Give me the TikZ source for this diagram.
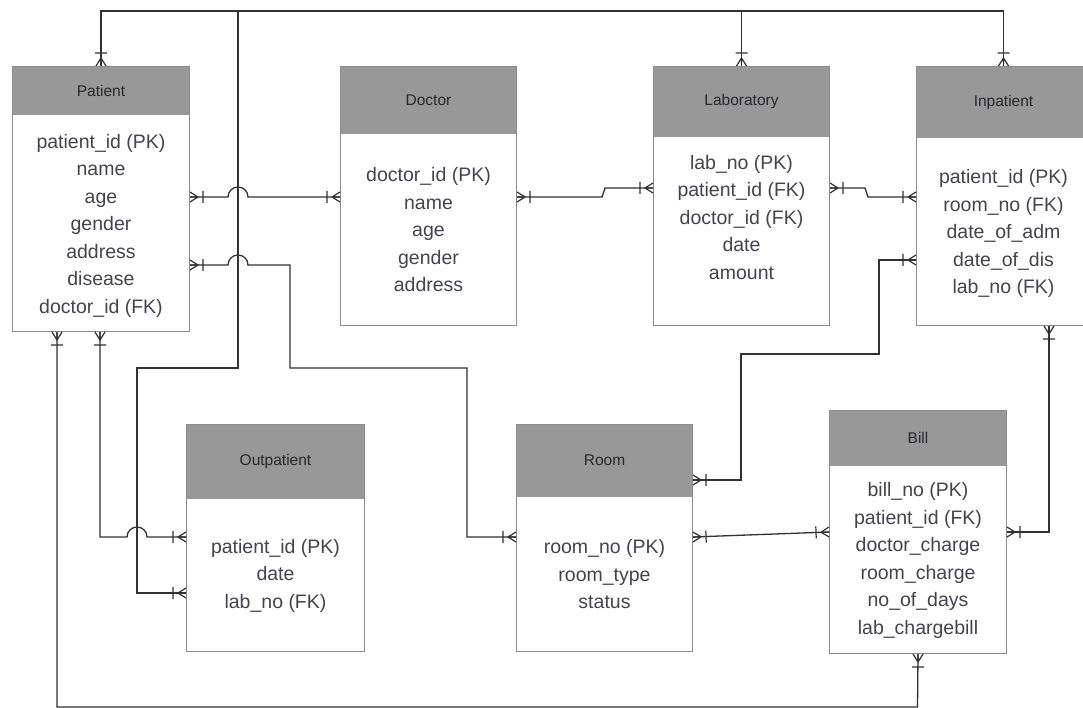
\documentclass[tikz,border=0pt]{standalone}
\usepackage{fontspec}
\setmainfont{Liberation Sans}
\usetikzlibrary{calc}
\definecolor{hdrcol}{RGB}{152,152,152}
\definecolor{boxcol}{RGB}{140,140,140}
\definecolor{txtcol}{RGB}{68,68,78}
\definecolor{ttlcol}{RGB}{40,40,45}
\definecolor{lncol}{RGB}{50,50,50}
\begin{document}
\begin{tikzpicture}[x=1pt,y=1pt,
  entity/.style={draw=boxcol,line width=1pt,inner sep=0pt,anchor=north west,fill=white,
    path picture={\fill[hdrcol] (path picture bounding box.north west) rectangle ([yshift=-#1]path picture bounding box.north east);}},
  ttl/.style={font=\fontsize{15.5}{18}\selectfont,text=ttlcol,inner sep=0pt},
  attr/.style={font=\fontsize{19.5}{27.5}\selectfont,text=txtcol,align=center,inner sep=0pt},
  conn/.style={draw=lncol,line width=1.3pt},
  crow/.pic={\draw[conn,line width=1.2pt] (0,-5)--(8,0)--(0,5) (0,0)--(8,0) (13,-6)--(13,6);}
]
\clip (0,0) rectangle (1083,-708);
\fill[white] (0,0) rectangle (1083,-708);

% entities
\node[entity=49, minimum width=177, minimum height=265] (pat) at (12,-66) {};
\node[entity=68, minimum width=176, minimum height=259] (doc) at (340,-66) {};
\node[entity=71, minimum width=176, minimum height=259] (lab) at (653,-66) {};
\node[entity=72, minimum width=174, minimum height=259] (inp) at (916,-66) {};
\node[entity=74, minimum width=178, minimum height=227] (outp) at (186,-424) {};
\node[entity=72, minimum width=176, minimum height=227] (room) at (516,-424) {};
\node[entity=55, minimum width=177, minimum height=243] (bill) at (829,-410) {};

% titles
\node[ttl] (patT) at ([yshift=-24.5]pat.north) {Patient};
\node[ttl] (docT) at ([yshift=-34]doc.north) {Doctor};
\node[ttl] (labT) at ([yshift=-35.5]lab.north) {Laboratory};
\node[ttl] (inpT) at ([yshift=-36]inp.north) {Inpatient};
\node[ttl] (outpT) at ([yshift=-37]outp.north) {Outpatient};
\node[ttl] (roomT) at ([yshift=-36]room.north) {Room};
\node[ttl] (billT) at ([yshift=-27.5]bill.north) {Bill};

% attributes
\node[attr] (patA) at ([yshift=-159.5]pat.north) {patient\_id (PK)\\name\\age\\gender\\address\\disease\\doctor\_id (FK)};
\node[attr] (docA) at ([yshift=-164]doc.north) {doctor\_id (PK)\\name\\age\\gender\\address};
\node[attr] (labA) at ([yshift=-151.5]lab.north) {lab\_no (PK)\\patient\_id (FK)\\doctor\_id (FK)\\date\\amount};
\node[attr] (inpA) at ([yshift=-167.5]inp.north) {patient\_id (PK)\\room\_no (FK)\\date\_of\_adm\\date\_of\_dis\\lab\_no (FK)};
\node[attr] (outpA) at ([yshift=-151.5]outp.north) {patient\_id (PK)\\date\\lab\_no (FK)};
\node[attr] (roomA) at ([yshift=-150.5]room.north) {room\_no (PK)\\room\_type\\status};
\node[attr] (billA) at ([yshift=-150.5]bill.north) {bill\_no (PK)\\patient\_id (FK)\\doctor\_charge\\room\_charge\\no\_of\_days\\lab\_chargebill};

% top network
\coordinate (jtop) at (238,-11);
\draw[conn] (pat.north) -- ++(0,55) -| (inp.north);
\draw[conn] (lab.north) -- ++(0,55);
\draw[conn] (jtop) -- (238,-368) -- (137,-368) -- (137,-593) -- ([yshift=-169]outp.north west);
\pic[rotate=90] at (pat.north) {crow};
\pic[rotate=90] at (lab.north) {crow};
\pic[rotate=90] at (inp.north) {crow};
\pic[rotate=180] at ([yshift=-169]outp.north west) {crow};

% Patient - Doctor
\draw[conn] ([yshift=-131]pat.north east) -- (228,-197) arc[start angle=180,end angle=0,radius=10] -- ([yshift=-131]doc.north west);
\pic at ([yshift=-131]pat.north east) {crow};
\pic[rotate=180] at ([yshift=-131]doc.north west) {crow};

% Patient - Room
\draw[conn] ([yshift=-199]pat.north east) -- (228,-265) arc[start angle=180,end angle=0,radius=10] -- (290,-265) -- (290,-368) -- (467,-368) -- (467,-537) -- ([yshift=-113]room.north west);
\pic at ([yshift=-199]pat.north east) {crow};
\pic[rotate=180] at ([yshift=-113]room.north west) {crow};

% Patient - Bill
\draw[conn] ([xshift=45]pat.south west) -- (57,-707) -- (917.5,-707) -- (bill.south);
\pic[rotate=-90] at ([xshift=45]pat.south west) {crow};
\pic[rotate=-90] at (bill.south) {crow};

% Patient - Outpatient
\draw[conn] ([xshift=88]pat.south west) -- (100,-537) -- (127,-537) arc[start angle=180,end angle=0,radius=10] -- ([yshift=-113]outp.north west);
\pic[rotate=-90] at ([xshift=88]pat.south west) {crow};
\pic[rotate=180] at ([yshift=-113]outp.north west) {crow};

% Doctor - Laboratory
\draw[conn] ([yshift=-131]doc.north east) -- (602,-197) -- (605,-188) -- ([yshift=-122]lab.north west);
\pic at ([yshift=-131]doc.north east) {crow};
\pic[rotate=180] at ([yshift=-122]lab.north west) {crow};

% Laboratory - Inpatient
\draw[conn] ([yshift=-122]lab.north east) -- (865,-188) -- (868,-197) -- ([yshift=-131]inp.north west);
\pic at ([yshift=-122]lab.north east) {crow};
\pic[rotate=180] at ([yshift=-131]inp.north west) {crow};

% Inpatient - Room
\draw[conn] ([yshift=-194]inp.north west) -- (879,-260) -- (879,-354) -- (741,-354) -- (741,-480) -- ([yshift=-56]room.north east);
\pic[rotate=180] at ([yshift=-194]inp.north west) {crow};
\pic at ([yshift=-56]room.north east) {crow};

% Room - Bill
\draw[conn] ([yshift=-113]room.north east) -- ([yshift=-122]bill.north west);
\pic[rotate=2.1] at ([yshift=-113]room.north east) {crow};
\pic[rotate=182.1] at ([yshift=-122]bill.north west) {crow};

% Bill - Inpatient
\draw[conn] ([yshift=-122]bill.north east) -- (1049,-532) -- ([xshift=133]inp.south west);
\pic at ([yshift=-122]bill.north east) {crow};
\pic[rotate=-90] at ([xshift=133]inp.south west) {crow};
\end{tikzpicture}
\end{document}
